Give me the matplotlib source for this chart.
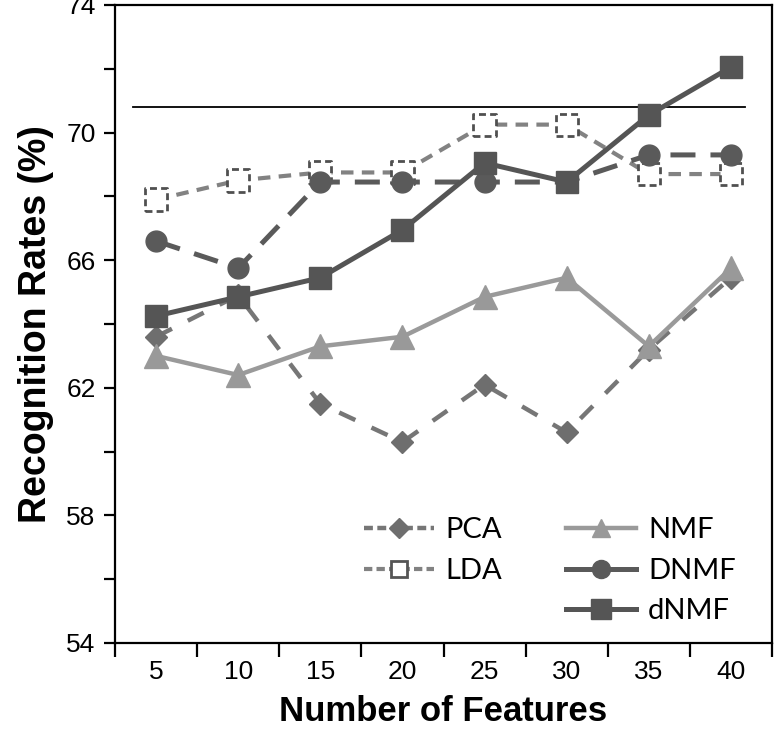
import matplotlib
matplotlib.use('Agg')
import matplotlib.pyplot as plt
from matplotlib.lines import Line2D

features = ['5', '10', '15', '20', '25', '30', '35', '40']
pca = [63.6, 64.9, 61.5, 60.3, 62.1, 60.6, 63.2, 65.45]
lda = [67.9, 68.5, 68.75, 68.75, 70.25, 70.25, 68.7, 68.7]
nmf = [63.0, 62.4, 63.3, 63.6, 64.85, 65.45, 63.3, 65.75]
dnmf_big = [66.6, 65.75, 68.45, 68.45, 68.45, 68.45, 69.3, 69.3]   # DNMF
dnmf = [64.25, 64.85, 65.45, 66.95, 69.05, 68.45, 70.55, 72.05]    # dNMF
ref_level = 70.8

tick_font = ['Liberation Sans', 'DejaVu Sans']
lab_font = ['Liberation Sans', 'DejaVu Sans']

fig = plt.figure( figsize=(7.74, 7.34), dpi=100 )
ax = fig.add_axes( [0.1486, 0.124, 0.8488, 0.8692] )

x = list( range( len( features ) ) )

ax.axhline( ref_level, xmin=0.027, xmax=0.959, color='black', lw=1.3, zorder=1 )

ax.plot( x, pca, color='#767676', lw=3.2, dashes=(4, 4), marker='D', ms=11,
         mfc='#6e6e6e', mec='#6e6e6e', zorder=2 )
ax.plot( x, nmf, color='#9a9a9a', lw=3.2, marker='^', ms=17,
         mfc='#999999', mec='#999999', zorder=3 )
ax.plot( x, lda, color='#828282', lw=3.0, dashes=(3, 2), zorder=2 )
ax.scatter( x, lda, marker='s', s=16**2, facecolor='white', edgecolor='#505050',
            linewidths=2.0, linestyles=(0, (2.5, 1.5)), zorder=4 )
ax.plot( x, dnmf_big, color='#5a5a5a', lw=3.6, dashes=(5, 3), marker='o', ms=15,
         mfc='#5a5a5a', mec='#5a5a5a', zorder=4 )
ax.plot( x, dnmf, color='#555555', lw=3.6, marker='s', ms=16,
         mfc='#555555', mec='#555555', zorder=5 )

ax.set_xlim( -0.5, 7.5 )
ax.set_ylim( 54, 74 )
ax.set_yticks( [54, 58, 62, 66, 70, 74] )
ax.set_yticks( [56, 60, 64, 68, 72], minor=True )
ax.set_xticks( x )
ax.set_xticklabels( features )
ax.set_xticks( [i - 0.5 for i in range( len( features ) + 1 )], minor=True )
ax.tick_params( axis='x', which='major', length=0, pad=12, labelsize=19 )
ax.tick_params( axis='x', which='minor', length=10, width=1.6, direction='out' )
ax.tick_params( axis='y', which='both', length=8, width=1.6, direction='out', labelsize=19, pad=6 )
for lab in ax.get_xticklabels() + ax.get_yticklabels():
    lab.set_family( tick_font )

for s in ax.spines.values():
    s.set_linewidth( 1.6 )

ax.set_xlabel( 'Number of Features', fontsize=25, fontweight='bold', family=lab_font, labelpad=8 )
ax.set_ylabel( 'Recognition Rates (%)', fontsize=27, fontweight='bold', family=lab_font, labelpad=9 )

h_pca = Line2D( [], [], color='#767676', lw=3.2, dashes=(2, 1), marker='D', ms=10, mfc='#6e6e6e', mec='#6e6e6e' )
h_lda = Line2D( [], [], color='#828282', lw=3.0, dashes=(2, 1), marker='s', ms=11, mfc='white', mec='#555555', mew=2 )
h_blank = Line2D( [], [], color='none' )
h_nmf = Line2D( [], [], color='#9a9a9a', lw=3.2, marker='^', ms=13, mfc='#999999', mec='#999999' )
h_dnmf_big = Line2D( [], [], color='#5a5a5a', lw=3.6, marker='o', ms=13, mfc='#5a5a5a', mec='#5a5a5a' )
h_dnmf = Line2D( [], [], color='#555555', lw=3.6, marker='s', ms=14, mfc='#555555', mec='#555555' )
ax.legend( [h_pca, h_lda, h_blank, h_nmf, h_dnmf_big, h_dnmf],
           ['PCA', 'LDA', '', 'NMF', 'DNMF', 'dNMF'],
           ncol=2, frameon=False, loc='lower right', bbox_to_anchor=(0.985, -0.012),
           prop={'family': ['Lato', 'DejaVu Sans'], 'size': 21},
           handlelength=2.4, handletextpad=0.4, columnspacing=2.2, labelspacing=0.5 )

plt.savefig( 'out.png', dpi=100 )
